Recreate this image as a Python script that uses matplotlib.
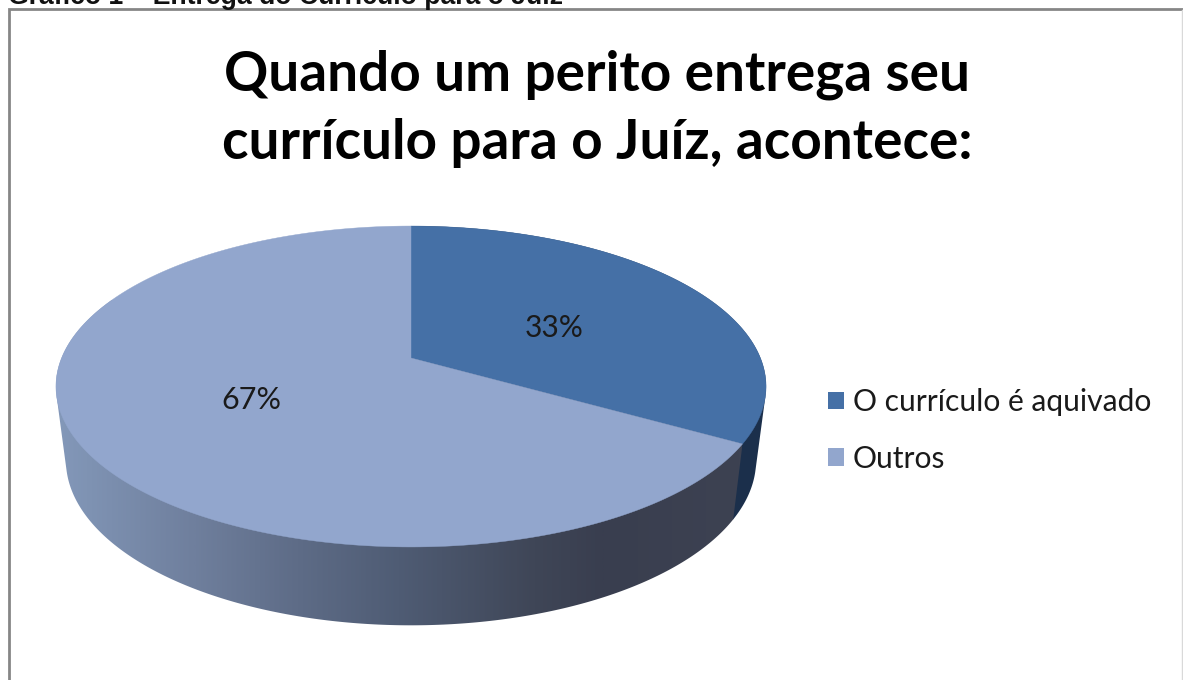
import numpy as np
import matplotlib
matplotlib.use("Agg")
import matplotlib.pyplot as plt
from matplotlib.patches import Polygon, Patch
from matplotlib.colors import LinearSegmentedColormap

caption = "Gráfico 1 – Entrega do Currículo para o Juiz"
title = "Quando um perito entrega seu\ncurrículo para o Juíz, acontece:"
labels = ["O currículo é aquivado", "Outros"]
values = [33.4, 66.6]
colors = ["#4570a6", "#92a6cd"]

plt.rcParams["font.family"] = ["Lato", "DejaVu Sans"]

# the pie is a circle seen in perspective, k pulls the hub above the ellipse centre
k = 0.1776


def project(theta, cx, cy, a, b):
   u = np.sin(theta)
   v = np.cos(theta)
   return cx + b * u / (1 + k * v), cy - a * v / (1 + k * v)


def top(theta):
   return project(theta, 411, 358, 155.4, 349.4)


def bottom(theta):
   return project(theta, 411, 431, 159.8, 339.6)


def half_hull(pts):
   out = []
   for p in pts:
      while len(out) > 1 and np.cross(np.subtract(out[-1], out[-2]), np.subtract(p, out[-1])) <= 0:
         out.pop()
      out.append(p)
   return out[:-1]


def wall_outline(theta0, theta1):
   # convex outline of the rim between two angles, the top face hides the inside
   thetas = np.linspace(theta0, theta1, 400)
   pts = sorted(list(zip(*top(thetas))) + list(zip(*bottom(thetas))))
   return np.array(half_hull(pts) + half_hull(pts[::-1]))


fig = plt.figure(figsize=(11.83, 6.80), dpi=100)
ax = fig.add_axes([0, 0, 1, 1])
ax.axis("off")

fracs = np.array(values) / sum(values)
edges = np.concatenate(([0], np.cumsum(fracs))) * 2 * np.pi

# dark rim of the first slice, the other rim goes over it
ax.add_patch(Polygon(wall_outline(edges[0], edges[1]), closed=True, facecolor="#1b2f4b", edgecolor="none", zorder=1))

# side wall, shaded by horizontal position
wall = LinearSegmentedColormap.from_list(
   "wall",
   [(0, "#8398b9"), (0.2, "#6f7f9d"), (0.35, "#5e6c87"), (0.5, "#4f5c74"),
    (0.7, "#3f4657"), (0.8, "#393e4f"), (1, "#3d4252")],
)
img = ax.imshow(np.linspace(0, 1, 400)[None, :], cmap=wall, extent=(56, 742, 640, 300), aspect="auto",
                vmin=0, vmax=1, zorder=2)
outline = Polygon(wall_outline(edges[1], edges[2]), closed=True, transform=ax.transData, facecolor="none", edgecolor="none")
ax.add_patch(outline)
img.set_clip_path(outline)

ax.set_xlim(0, 1183)
ax.set_ylim(680, 0)

# caption cut by the top of the page, and the chart frame
ax.text(8, 4, caption, family="Liberation Sans", weight="bold", fontsize=19.2,
        color="#111111", ha="left", va="baseline")
ax.plot([9.5, 9.5, 1183], [680, 8.5, 8.5], color="#868686", lw=2, solid_joinstyle="miter")
ax.plot([1182, 1182], [10, 680], color="#d9d9d9", lw=1)

# top face
hub = (411, 358)
for i in range(len(values)):
   thetas = np.linspace(edges[i], edges[i + 1], 300)
   x, y = top(thetas)
   pts = np.column_stack((np.r_[hub[0], x], np.r_[hub[1], y]))
   ax.add_patch(Polygon(pts, closed=True, facecolor=colors[i], edgecolor=colors[i], lw=0.3, zorder=3))

ax.text(554, 328, "%.0f%%" % values[0], fontsize=21.5, color="#1a1a1a", ha="center", va="center", zorder=4)
ax.text(251, 400, "%.0f%%" % values[1], fontsize=22, color="#1a1a1a", ha="center", va="center", zorder=4)

ax.text(597.5, 108.5, title, fontsize=39.5, weight="bold", color="black", ha="center", va="center", linespacing=1.45)

handles = [Patch(facecolor=colors[i], edgecolor="none", label=labels[i]) for i in range(len(labels))]
ax.legend(
   handles=handles,
   loc="center left",
   bbox_to_anchor=(828 / 1183, 1 - 430.5 / 680),
   frameon=False,
   fontsize=21.6,
   handlelength=0.53,
   handleheight=0.53,
   handletextpad=0.3,
   labelspacing=0.95,
   labelcolor="#1a1a1a",
   borderpad=0,
   borderaxespad=0,
)

plt.savefig("out.png", dpi=100)
